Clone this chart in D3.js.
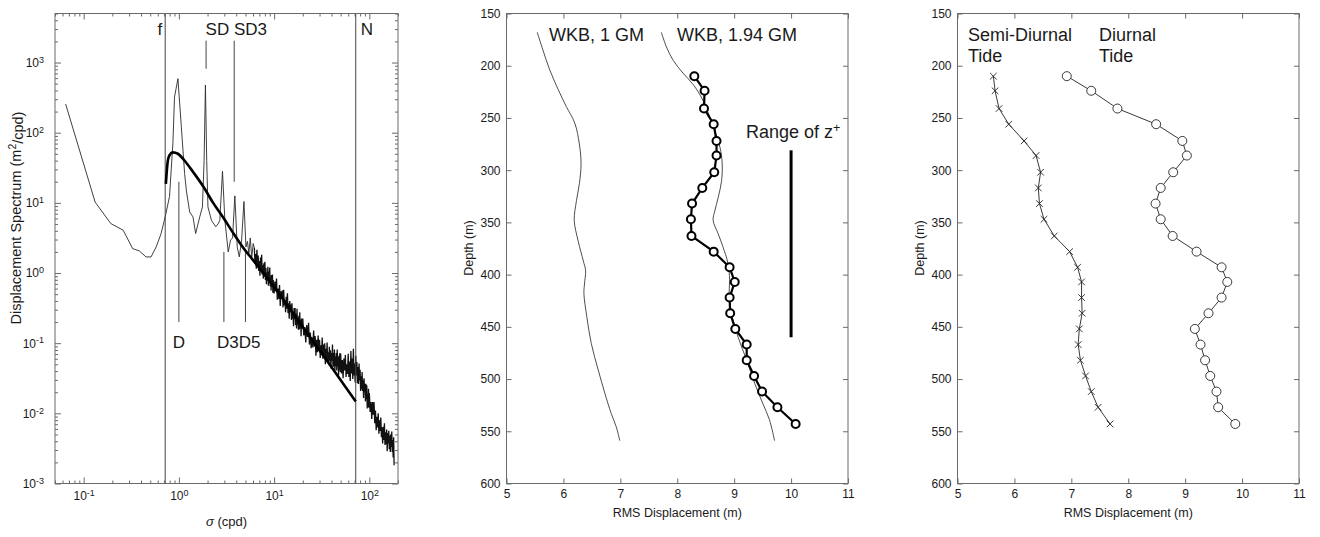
<!DOCTYPE html>
<html>
<head>
<meta charset="utf-8">
<script src="https://cdn.jsdelivr.net/npm/d3@7"></script>
<style>
  body { margin: 0; background: #fff; }
  svg text { font-family: "Liberation Sans", Arial, Helvetica, sans-serif; fill: #1a1a1a; }
</style>
</head>
<body>
<div id="wrapper"></div>
<script>
// ---------------- data ----------------
// Panel 1: displacement spectrum, sigma in cpd, level as log10(m^2/cpd)
const specSigmaLow = [0.0646, 0.132, 0.193, 0.26, 0.327, 0.385, 0.452, 0.51, 0.577, 0.65,
  0.718, 0.797, 0.865, 0.90, 0.977, 1.06, 1.148, 1.197, 1.297, 1.406,
  1.5, 1.656, 1.766, 1.84, 1.90, 1.96, 2.02, 2.2, 2.44, 2.58,
  2.69, 2.87, 3.04, 3.30, 3.49, 3.66, 3.87, 4.10, 4.31, 4.56,
  4.82, 5.06, 5.25, 5.43, 5.62, 5.82, 6.03];
const specLogLow = [2.41, 1.01, 0.705, 0.61, 0.348, 0.314, 0.229, 0.229, 0.371, 0.562,
  0.80, 1.09, 1.85, 2.51, 2.77, 2.09, 1.42, 1.18, 0.87, 0.80,
  0.563, 0.80, 0.94, 1.6, 2.68, 1.6, 0.94, 0.75, 0.66, 0.70,
  0.75, 1.45, 0.75, 0.30, 0.47, 0.50, 1.10, 0.37, 0.23, 0.47,
  1.02, 0.37, 0.45, 0.28, 0.50, 0.22, 0.42];

const specSigmaA = [6.2, 6.3, 6.4, 6.5, 6.6, 6.7, 6.8, 6.9, 7.0, 7.1, 7.2, 7.3, 7.4, 7.5, 7.6, 7.7, 7.8, 7.9, 8.0,
  8.1, 8.2, 8.3, 8.4, 8.5, 8.6, 8.7, 8.8, 8.9, 9.0, 9.1, 9.2, 9.3, 9.4, 9.5, 9.6, 9.7, 9.8, 9.9];
const specLogA = [0.36, 0.13, 0.27, 0.06, 0.33, 0.12, 0.25, 0.03, 0.17, -0.04, 0.22, 0.03, 0.26, -0.02, 0.11, -0.08,
  0.14, -0.01, 0.16, -0.10, 0.07, -0.16, 0.01, -0.11, 0.09, -0.18, 0.02, -0.13, 0.08, -0.19, -0.05, -0.25,
  -0.03, -0.20, -0.02, -0.28, -0.10, -0.26];

const specSigmaB = [10, 10.2, 10.4, 10.6, 10.8, 11, 11.2, 11.4, 11.6, 11.8, 12, 12.2, 12.4, 12.6, 12.8, 13, 13.2,
  13.4, 13.6, 13.8, 14, 14.2, 14.4, 14.6, 14.8, 15, 15.2, 15.4, 15.6, 15.8, 16, 16.2, 16.4, 16.6, 16.8, 17,
  17.2, 17.4, 17.6, 17.8, 18, 18.2, 18.4, 18.6, 18.8, 19, 19.2, 19.4, 19.6, 19.8];
const specLogB = [-0.29, -0.12, -0.26, -0.08, -0.38, -0.22, -0.37, -0.17, -0.47, -0.26, -0.37, -0.25, -0.49, -0.24,
  -0.46, -0.39, -0.56, -0.34, -0.51, -0.29, -0.57, -0.43, -0.65, -0.40, -0.56, -0.45, -0.67, -0.43, -0.65, -0.55,
  -0.76, -0.50, -0.66, -0.50, -0.74, -0.58, -0.79, -0.51, -0.74, -0.64, -0.81, -0.61, -0.80, -0.56, -0.79, -0.67,
  -0.90, -0.65, -0.79, -0.69];

const specSigmaC = [20, 20.5, 21, 21.5, 22, 22.5, 23, 23.5, 24, 24.5, 25, 25.5, 26, 26.5, 27, 27.5, 28, 28.5, 29,
  29.5, 30, 30.5, 31, 31.5, 32, 32.5, 33, 33.5, 34, 34.5, 35, 35.5, 36, 36.5, 37, 37.5, 38, 38.5, 39, 39.5, 40,
  40.5, 41, 41.5, 42, 42.5, 43, 43.5, 44, 44.5, 45, 45.5, 46, 46.5, 47, 47.5, 48, 48.5, 49, 49.5];
const specLogC = [-0.65, -0.89, -0.77, -0.99, -0.74, -0.91, -0.71, -1.02, -0.85, -1.07, -0.92, -1.06, -0.82, -1.05,
  -0.90, -1.18, -0.95, -1.13, -0.89, -1.09, -0.95, -1.21, -1.03, -1.16, -0.92, -1.22, -1.02, -1.17, -1.00, -1.30,
  -1.08, -1.23, -0.99, -1.26, -1.13, -1.31, -1.05, -1.25, -1.10, -1.36, -1.14, -1.25, -1.02, -1.34, -1.14, -1.33,
  -1.09, -1.39, -1.19, -1.33, -1.14, -1.39, -1.09, -1.33, -1.20, -1.46, -1.18, -1.38, -1.14, -1.41];

const specSigmaD = [50, 51, 52, 53, 54, 55, 56, 57, 58, 59, 60, 61, 62, 63, 64, 65, 66, 67, 68, 69, 70, 71, 72, 73,
  74, 75, 76, 77, 78, 79, 80, 81, 82, 83, 84, 85, 86, 87, 88, 89, 90, 91, 92, 93, 94, 95, 96, 97, 98, 99];
const specLogD = [-1.15, -1.43, -1.24, -1.50, -1.22, -1.39, -1.17, -1.48, -1.30, -1.44, -1.15, -1.48, -1.26, -1.54,
  -1.11, -1.43, -1.22, -1.51, -1.08, -1.46, -1.29, -1.56, -1.18, -1.46, -1.27, -1.57, -1.34, -1.58, -1.29, -1.53,
  -1.38, -1.68, -1.47, -1.66, -1.41, -1.68, -1.53, -1.78, -1.50, -1.70, -1.58, -1.83, -1.58, -1.80, -1.60, -1.93,
  -1.72, -1.91, -1.65, -1.92];

const specSigmaE = [100, 102, 104, 106, 108, 110, 112, 114, 116, 118, 120, 122, 124, 126, 128, 130, 132, 134, 136,
  138, 140, 142, 144, 146, 148, 150, 152, 154, 156, 158, 160, 162, 164, 166, 168, 170, 172, 174, 176, 178, 180, 182];
const specLogE = [-1.71, -1.98, -1.84, -2.08, -1.84, -2.02, -1.84, -2.14, -1.96, -2.24, -2.05, -2.20, -2.00, -2.29,
  -2.10, -2.25, -2.06, -2.34, -2.20, -2.43, -2.19, -2.38, -2.14, -2.45, -2.27, -2.44, -2.23, -2.54, -2.28, -2.43,
  -2.25, -2.51, -2.32, -2.55, -2.30, -2.48, -2.26, -2.55, -2.38, -2.63, -2.34, -2.74];

// GM model spectrum (thick curve)
const gmSigma = [0.73, 0.765, 0.798, 0.865, 0.975, 1.15, 1.41, 1.79, 2.29, 2.92, 3.72, 4.74, 6.04, 10, 20, 40, 72];
const gmLog = [1.27, 1.60, 1.68, 1.72, 1.70, 1.60, 1.44, 1.24, 1.00, 0.79, 0.57, 0.36, 0.18, -0.2, -0.77, -1.34, -1.83];

const fSigma = 0.718;
const nSigma = 72;
// tidal marker lines: sigma, top and bottom level (m^2/cpd)
const tideSigma = [1.93, 3.81, 1.0, 2.97, 5.0];
const tideTop = [2050, 2050, 20, 2, 2];
const tideBottom = [815, 20, 0.2, 0.2, 0.2];

// Panel 2: RMS displacement vs depth
const wkb1Rms = [5.54, 5.64, 5.76, 5.91, 6.05, 6.20, 6.28, 6.31, 6.28, 6.23, 6.19, 6.26, 6.35, 6.39, 6.37, 6.36,
  6.41, 6.49, 6.61, 6.73, 6.84, 6.93, 6.99];
const wkb1Depth = [168, 185, 204, 223, 239, 255, 275, 294, 313, 329, 348, 368, 387, 396, 409, 418, 440, 466, 491,
  514, 533, 546, 559];
const wkb194Rms = [7.72, 7.81, 7.93, 8.10, 8.28, 8.45, 8.63, 8.75, 8.79, 8.78, 8.72, 8.66, 8.63, 8.72, 8.80, 8.89,
  8.92, 8.91, 8.95, 9.07, 9.22, 9.36, 9.50, 9.62, 9.71];
const wkb194Depth = [168, 182, 195, 207, 218, 233, 258, 278, 294, 310, 326, 339, 348, 361, 373, 389, 405, 421, 437,
  460, 482, 504, 523, 539, 559];
const obsDepth = [210, 224, 241, 256, 272, 286, 302, 317, 332, 347, 363, 378, 393, 407, 422, 437, 452, 467, 482,
  497, 512, 527, 543];
const obsRms = [8.30, 8.48, 8.47, 8.64, 8.69, 8.69, 8.65, 8.44, 8.26, 8.24, 8.25, 8.64, 8.92, 9.01, 8.92, 8.93,
  9.02, 9.22, 9.22, 9.35, 9.49, 9.76, 10.08];
const zRangeRms = 10.0;
const zRangeDepth = [281, 460];

// Panel 3: tidal RMS displacement vs depth
const semiRms = [5.63, 5.66, 5.73, 5.90, 6.17, 6.38, 6.46, 6.42, 6.44, 6.52, 6.70, 6.97, 7.11, 7.18, 7.18, 7.19,
  7.14, 7.12, 7.16, 7.25, 7.35, 7.47, 7.68];
const diurnalRms = [6.92, 7.35, 7.81, 8.49, 8.95, 9.03, 8.79, 8.57, 8.48, 8.57, 8.78, 9.20, 9.64, 9.74, 9.64, 9.41,
  9.17, 9.27, 9.35, 9.44, 9.55, 9.58, 9.88];

const depthTicks = [150, 200, 250, 300, 350, 400, 450, 500, 550, 600];
const rmsTicks = [5, 6, 7, 8, 9, 10, 11];

// ---------------- drawing ----------------
const svg = d3.select("#wrapper").append("svg").attr("width", 1320).attr("height", 537);

const axisColor = "#6a6a6a";
const plotTop = 13.5, plotBottom = 483.5;

function styleAxis(g, fontSize) {
  g.select(".domain").remove();
  g.selectAll(".tick line").attr("stroke", axisColor);
  g.selectAll(".tick text").attr("font-size", fontSize).attr("fill", "#1a1a1a")
    .attr("font-family", "Liberation Sans, Arial, sans-serif");
}

function frame(x0, x1) {
  svg.append("rect").attr("x", x0).attr("y", plotTop).attr("width", x1 - x0).attr("height", plotBottom - plotTop)
    .attr("fill", "none").attr("stroke", axisColor).attr("stroke-width", 1);
}

// ---- panel 1 ----
const xS = d3.scaleLog().domain([0.05, 200]).range([55, 398]);
const yS = d3.scaleLog().domain([1e-3, 5000]).range([plotBottom, plotTop]);

const isPow = (d) => Math.abs(Math.log10(d) - Math.round(Math.log10(d))) < 1e-9;
const xMajor = xS.ticks().filter(isPow);
const xMinor = xS.ticks().filter((d) => !isPow(d));
const yMajor = yS.ticks().filter(isPow);
const yMinor = yS.ticks().filter((d) => !isPow(d));

function supLabels(g) {
  g.selectAll(".tick text").each(function (d) {
    const e = Math.round(Math.log10(d));
    const t = d3.select(this).text("10");
    t.append("tspan").attr("dy", "-0.45em").attr("font-size", "0.75em").text(e);
  });
}

const p1 = svg.append("g");
p1.append("g").attr("transform", `translate(0,${plotBottom})`)
  .call(d3.axisBottom(xS).tickValues(xMajor).tickSize(-6).tickPadding(8))
  .call((g) => styleAxis(g, 12)).call(supLabels);
p1.append("g").attr("transform", `translate(0,${plotBottom})`)
  .call(d3.axisBottom(xS).tickValues(xMinor).tickSize(-3).tickFormat(""))
  .call((g) => styleAxis(g, 12));
p1.append("g").attr("transform", `translate(0,${plotTop})`)
  .call(d3.axisTop(xS).tickValues(xMajor).tickSize(-6).tickFormat(""))
  .call((g) => styleAxis(g, 12));
p1.append("g").attr("transform", `translate(0,${plotTop})`)
  .call(d3.axisTop(xS).tickValues(xMinor).tickSize(-3).tickFormat(""))
  .call((g) => styleAxis(g, 12));
p1.append("g").attr("transform", `translate(55,0)`)
  .call(d3.axisLeft(yS).tickValues(yMajor).tickSize(-6).tickPadding(11))
  .call((g) => styleAxis(g, 12)).call(supLabels);
p1.append("g").attr("transform", `translate(55,0)`)
  .call(d3.axisLeft(yS).tickValues(yMinor).tickSize(-3).tickFormat(""))
  .call((g) => styleAxis(g, 12));
p1.append("g").attr("transform", `translate(398,0)`)
  .call(d3.axisRight(yS).tickValues(yMajor).tickSize(-6).tickFormat(""))
  .call((g) => styleAxis(g, 12));
p1.append("g").attr("transform", `translate(398,0)`)
  .call(d3.axisRight(yS).tickValues(yMinor).tickSize(-3).tickFormat(""))
  .call((g) => styleAxis(g, 12));
frame(55, 398);

const spectrumLow = d3.zip(specSigmaLow, specLogLow);
const spectrumHigh = [
  ...d3.zip(specSigmaA, specLogA),
  ...d3.zip(specSigmaB, specLogB),
  ...d3.zip(specSigmaC, specLogC),
  ...d3.zip(specSigmaD, specLogD),
  ...d3.zip(specSigmaE, specLogE),
];
const logLine = d3.line().x((d) => xS(d[0])).y((d) => yS(Math.pow(10, d[1])));

p1.append("path").datum([...spectrumLow, spectrumHigh[0]]).attr("d", logLine)
  .attr("fill", "none").attr("stroke", "#2a2a2a").attr("stroke-width", 0.9);
p1.append("path").datum(spectrumHigh).attr("d", logLine)
  .attr("fill", "none").attr("stroke", "#111").attr("stroke-width", 1.3);

// f and N lines
[fSigma, nSigma].forEach((s) => {
  p1.append("line").attr("x1", xS(s)).attr("x2", xS(s)).attr("y1", plotTop).attr("y2", plotBottom)
    .attr("stroke", "#444").attr("stroke-width", 1);
});

// tidal markers
tideSigma.forEach((s, i) => {
  p1.append("line").attr("x1", xS(s)).attr("x2", xS(s))
    .attr("y1", yS(tideTop[i])).attr("y2", yS(tideBottom[i]))
    .attr("stroke", "#444").attr("stroke-width", 1);
});

p1.append("path").datum(d3.zip(gmSigma, gmLog))
  .attr("d", logLine.curve(d3.curveMonotoneX))
  .attr("fill", "none").attr("stroke", "#000").attr("stroke-width", 2.6);

const ann1 = p1.append("g").attr("font-size", 17);
ann1.append("text").attr("x", xS(fSigma) - 3).attr("y", 35).attr("text-anchor", "end").text("f");
ann1.append("text").attr("x", xS(1.93) - 0.5).attr("y", 35).text("SD SD3");
ann1.append("text").attr("x", xS(nSigma) + 5).attr("y", 35).text("N");
ann1.append("text").attr("x", xS(1.0)).attr("y", 348).attr("text-anchor", "middle").text("D");
ann1.append("text").attr("x", 217).attr("y", 348).text("D3D5");

p1.append("text").attr("x", 226.5).attr("y", 526).attr("text-anchor", "middle").attr("font-size", 13)
  .call((t) => {
    t.append("tspan").attr("font-style", "italic").text("σ");
    t.append("tspan").text(" (cpd)");
  });
p1.append("text").attr("transform", "translate(21,218) rotate(-90)").attr("text-anchor", "middle")
  .attr("font-size", 14.5)
  .call((t) => {
    t.append("tspan").text("Displacement Spectrum (m");
    t.append("tspan").attr("dy", "-0.45em").attr("font-size", "0.72em").text("2");
    t.append("tspan").attr("dy", "0.45em").text("/cpd)");
  });

// ---- panels 2 and 3 ----
function depthPanel(x0, x1, yTitleX) {
  const x = d3.scaleLinear().domain([5, 11]).range([x0, x1]);
  const y = d3.scaleLinear().domain([150, 600]).range([plotTop, plotBottom]);
  const g = svg.append("g");
  g.append("g").attr("transform", `translate(0,${plotBottom})`)
    .call(d3.axisBottom(x).tickValues(rmsTicks).tickSize(-5).tickPadding(6).tickFormat(d3.format("d")))
    .call((a) => styleAxis(a, 12));
  g.append("g").attr("transform", `translate(0,${plotTop})`)
    .call(d3.axisTop(x).tickValues(rmsTicks).tickSize(-5).tickFormat(""))
    .call((a) => styleAxis(a, 12));
  g.append("g").attr("transform", `translate(${x0},0)`)
    .call(d3.axisLeft(y).tickValues(depthTicks).tickSize(-5).tickPadding(6).tickFormat(d3.format("d")))
    .call((a) => styleAxis(a, 12));
  g.append("g").attr("transform", `translate(${x1},0)`)
    .call(d3.axisRight(y).tickValues(depthTicks).tickSize(-5).tickFormat(""))
    .call((a) => styleAxis(a, 12));
  frame(x0, x1);
  g.append("text").attr("x", (x0 + x1) / 2).attr("y", 517).attr("text-anchor", "middle")
    .attr("font-size", 12.5).text("RMS Displacement (m)");
  g.append("text").attr("transform", `translate(${yTitleX},248) rotate(-90)`).attr("text-anchor", "middle")
    .attr("font-size", 12.5).text("Depth (m)");
  return { g, x, y };
}

// panel 2
const m = depthPanel(506.5, 848, 473);
const mLine = (xs, ys) => d3.line().x((d, i) => m.x(xs[i])).y((d, i) => m.y(ys[i]));
m.g.append("path").datum(wkb1Rms).attr("d", mLine(wkb1Rms, wkb1Depth).curve(d3.curveCatmullRom))
  .attr("fill", "none").attr("stroke", "#3a3a3a").attr("stroke-width", 0.9);
m.g.append("path").datum(wkb194Rms).attr("d", mLine(wkb194Rms, wkb194Depth).curve(d3.curveCatmullRom))
  .attr("fill", "none").attr("stroke", "#3a3a3a").attr("stroke-width", 0.9);
m.g.append("path").datum(obsRms).attr("d", mLine(obsRms, obsDepth))
  .attr("fill", "none").attr("stroke", "#000").attr("stroke-width", 2.2);
m.g.selectAll("circle.obs").data(obsRms).join("circle").attr("class", "obs")
  .attr("cx", (d) => m.x(d)).attr("cy", (d, i) => m.y(obsDepth[i])).attr("r", 4)
  .attr("fill", "#fff").attr("stroke", "#000").attr("stroke-width", 2);
m.g.append("line").attr("x1", m.x(zRangeRms)).attr("x2", m.x(zRangeRms))
  .attr("y1", m.y(zRangeDepth[0])).attr("y2", m.y(zRangeDepth[1]))
  .attr("stroke", "#000").attr("stroke-width", 3);
const ann2 = m.g.append("g").attr("font-size", 18);
ann2.append("text").attr("x", 549).attr("y", 41).text("WKB, 1 GM");
ann2.append("text").attr("x", 677).attr("y", 41).text("WKB, 1.94 GM");
ann2.append("text").attr("x", 746).attr("y", 138)
  .call((t) => {
    t.append("tspan").text("Range of z");
    t.append("tspan").attr("dy", "-0.5em").attr("font-size", "0.7em").text("+");
  });

// panel 3
const r = depthPanel(957.5, 1299, 924);
const rLine = (xs) => d3.line().x((d, i) => r.x(xs[i])).y((d, i) => r.y(obsDepth[i]));
r.g.append("path").datum(semiRms).attr("d", rLine(semiRms))
  .attr("fill", "none").attr("stroke", "#222").attr("stroke-width", 0.9);
r.g.append("path").datum(diurnalRms).attr("d", rLine(diurnalRms))
  .attr("fill", "none").attr("stroke", "#222").attr("stroke-width", 0.9);
const xm = 3.3;
r.g.selectAll("path.xmark").data(semiRms).join("path").attr("class", "xmark")
  .attr("d", (d, i) => {
    const cx = r.x(d), cy = r.y(obsDepth[i]);
    return `M${cx - xm},${cy - xm}L${cx + xm},${cy + xm}M${cx - xm},${cy + xm}L${cx + xm},${cy - xm}`;
  })
  .attr("stroke", "#222").attr("stroke-width", 0.9).attr("fill", "none");
r.g.selectAll("circle.diu").data(diurnalRms).join("circle").attr("class", "diu")
  .attr("cx", (d) => r.x(d)).attr("cy", (d, i) => r.y(obsDepth[i])).attr("r", 4.5)
  .attr("fill", "#fff").attr("stroke", "#222").attr("stroke-width", 0.9);
const ann3 = r.g.append("g").attr("font-size", 18);
ann3.append("text").attr("x", 968).attr("y", 41).text("Semi-Diurnal");
ann3.append("text").attr("x", 968).attr("y", 62).text("Tide");
ann3.append("text").attr("x", 1099).attr("y", 41).text("Diurnal");
ann3.append("text").attr("x", 1099).attr("y", 62).text("Tide");
</script>
</body>
</html>
